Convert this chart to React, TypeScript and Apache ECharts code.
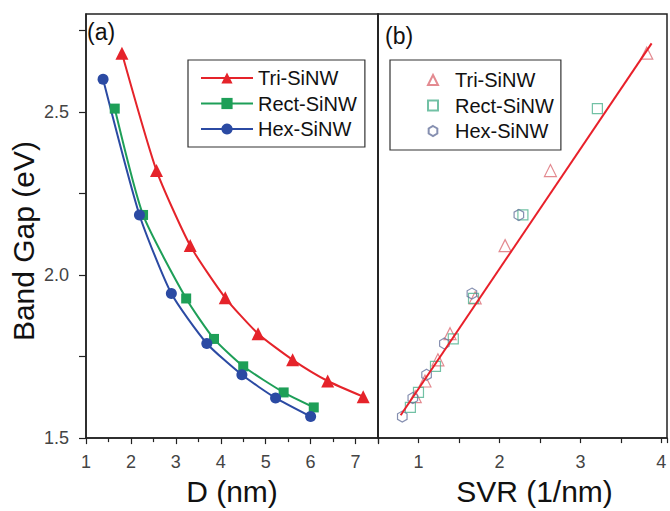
import React, { useEffect, useRef } from "react";
import * as echarts from "echarts";

// Panel (a): band gap vs diameter
const triD = [1.8, 2.57, 3.32, 4.1, 4.83, 5.6, 6.38, 7.17];
const triGap = [2.68, 2.32, 2.09, 1.93, 1.82, 1.74, 1.675, 1.627];
const rectD = [1.64, 2.27, 3.23, 3.85, 4.5, 5.4, 6.07];
const rectGap = [2.51, 2.184, 1.928, 1.804, 1.72, 1.64, 1.594];
const hexD = [1.38, 2.19, 2.9, 3.69, 4.47, 5.22, 6.0];
const hexGap = [2.6, 2.184, 1.943, 1.79, 1.694, 1.623, 1.566];

// Panel (b): band gap vs surface-to-volume ratio
const triSVR = [3.82, 2.63, 2.07, 1.7, 1.39, 1.24, 1.08, 0.96];
const rectSVR = [3.21, 2.29, 1.68, 1.43, 1.21, 1.0, 0.9];
const hexSVR = [2.24, 1.66, 1.32, 1.1, 0.93, 0.8];
const hexGapB = [2.184, 1.943, 1.79, 1.694, 1.623, 1.566];
const fitSVR = [0.78, 3.88];
const fitGap = [1.57, 2.71];

const names = ["Tri-SiNW", "Rect-SiNW", "Hex-SiNW"];

const RED = "#e5232a";
const GREEN = "#1e9f58";
const BLUE = "#2b4aa3";
const HEX = "path://M0,-1L0.866,-0.5L0.866,0.5L0,1L-0.866,0.5L-0.866,-0.5Z";
const FONT = "Liberation Sans, Arial, sans-serif";

const zip = (xs: number[], ys: number[]) => xs.map((x, i) => [x, ys[i]]);

export default function App() {
  const ref = useRef<HTMLDivElement>(null);
  useEffect(() => {
    document.body.style.margin = "0";
    const chart = echarts.init(ref.current!, null, { renderer: "svg" });
    const halfFmt = (v: number) =>
      Math.abs(v * 2 - Math.round(v * 2)) < 1e-6 ? v.toFixed(1) : "";
    const intFmt = (v: number) =>
      Math.abs(v - Math.round(v)) < 1e-6 ? String(Math.round(v)) : "";
    const axisLine = { show: true, lineStyle: { color: "#222", width: 1.5 } };
    const labelStyle = { fontSize: 18, color: "#444", fontFamily: FONT };
    const nameStyle = { fontSize: 30, color: "#111", fontFamily: FONT };
    const option: any = {
      animation: false,
      backgroundColor: "#fff",
      textStyle: { fontFamily: FONT },
      title: [
        { text: "(a)", left: 87, top: 20, textStyle: { fontSize: 23, fontWeight: "normal", color: "#111", fontFamily: FONT }, padding: 0 },
        { text: "(b)", left: 385, top: 24, textStyle: { fontSize: 23, fontWeight: "normal", color: "#111", fontFamily: FONT }, padding: 0 },
      ],
      grid: [
        { left: 86, top: 14, width: 292, height: 431, show: true, borderColor: "#222", borderWidth: 1.5, backgroundColor: "transparent" },
        { left: 378, top: 14, width: 302, height: 431, show: true, borderColor: "#222", borderWidth: 1.5, backgroundColor: "transparent" },
      ],
      legend: [
        {
          orient: "vertical",
          left: 188,
          top: 60,
          data: names,
          borderColor: "#333",
          borderWidth: 1.2,
          padding: [8, 8, 8, 12],
          itemWidth: 52,
          itemHeight: 14,
          itemGap: 5.5,
          textStyle: { fontSize: 20, color: "#111", lineHeight: 20, fontFamily: FONT },
        },
        {
          orient: "vertical",
          left: 390,
          top: 60,
          data: names.map((n) => n + " SVR"),
          formatter: (n: string) => n.replace(" SVR", ""),
          borderColor: "#333",
          borderWidth: 1.2,
          padding: [10, 7, 9, 37],
          itemWidth: 10,
          itemHeight: 10,
          itemGap: 5.5,
          textStyle: { fontSize: 20, color: "#111", lineHeight: 20, fontFamily: FONT, padding: [0, 0, 0, 12] },
        },
      ],
      xAxis: [
        {
          type: "value",
          gridIndex: 0,
          min: 1,
          max: 7.5,
          interval: 1,
          name: "D (nm)",
          nameLocation: "middle",
          nameGap: 27,
          nameTextStyle: nameStyle,
          axisLine,
          axisTick: { show: true, length: 6, lineStyle: { color: "#222", width: 1.2 } },
          minorTick: { show: true, splitNumber: 2, length: 4, lineStyle: { color: "#222", width: 1.2 } },
          splitLine: { show: false },
          axisLabel: { ...labelStyle, margin: 15, showMaxLabel: false },
        },
        {
          type: "value",
          gridIndex: 1,
          min: 0.5,
          max: 4.07,
          interval: 0.5,
          name: "SVR (1/nm)",
          nameLocation: "middle",
          nameGap: 27,
          nameTextStyle: { ...nameStyle, padding: [0, 0, 0, 24] },
          axisLine,
          axisTick: { show: true, length: 5, lineStyle: { color: "#222", width: 1.2 } },
          splitLine: { show: false },
          axisLabel: { ...labelStyle, margin: 15, formatter: intFmt },
        },
      ],
      yAxis: [
        {
          type: "value",
          gridIndex: 0,
          min: 1.5,
          max: 2.8,
          interval: 0.25,
          name: "Band Gap (eV)",
          nameLocation: "middle",
          nameGap: 48,
          nameTextStyle: { ...nameStyle, padding: [0, 30, 0, 0] },
          axisLine,
          axisTick: { show: true, length: 7, lineStyle: { color: "#222", width: 1.2 } },
          splitLine: { show: false },
          axisLabel: { ...labelStyle, margin: 17, formatter: halfFmt, showMaxLabel: false },
        },
        {
          type: "value",
          gridIndex: 1,
          min: 1.5,
          max: 2.8,
          interval: 0.25,
          axisLine,
          axisTick: { show: false },
          splitLine: { show: false },
          axisLabel: { show: false },
        },
      ],
      series: [
        {
          name: "Tri-SiNW",
          type: "line",
          xAxisIndex: 0,
          yAxisIndex: 0,
          data: zip(triD, triGap),
          smooth: 0.2,
          symbol: "triangle",
          symbolSize: 13,
          itemStyle: { color: RED },
          lineStyle: { color: RED, width: 2 },
        },
        {
          name: "Rect-SiNW",
          type: "line",
          xAxisIndex: 0,
          yAxisIndex: 0,
          data: zip(rectD, rectGap),
          smooth: 0.2,
          symbol: "rect",
          symbolSize: 10,
          itemStyle: { color: GREEN },
          lineStyle: { color: GREEN, width: 2 },
        },
        {
          name: "Hex-SiNW",
          type: "line",
          xAxisIndex: 0,
          yAxisIndex: 0,
          data: zip(hexD, hexGap),
          smooth: 0.2,
          symbol: "circle",
          symbolSize: 11,
          itemStyle: { color: BLUE },
          lineStyle: { color: BLUE, width: 2 },
        },
        {
          name: "Tri-SiNW SVR",
          type: "scatter",
          xAxisIndex: 1,
          yAxisIndex: 1,
          data: zip(triSVR, triGap),
          symbol: "triangle",
          symbolSize: 12,
          symbolKeepAspect: true,
          itemStyle: { color: "rgba(255,255,255,0)", borderColor: "#dc6d74", borderWidth: 1.2 },
        },
        {
          name: "Rect-SiNW SVR",
          type: "scatter",
          xAxisIndex: 1,
          yAxisIndex: 1,
          data: zip(rectSVR, rectGap),
          symbol: "rect",
          symbolSize: 10,
          symbolKeepAspect: true,
          itemStyle: { color: "rgba(255,255,255,0)", borderColor: "#4fb28e", borderWidth: 1.2 },
        },
        {
          name: "Hex-SiNW SVR",
          type: "scatter",
          xAxisIndex: 1,
          yAxisIndex: 1,
          data: zip(hexSVR, hexGapB),
          symbol: HEX,
          symbolSize: 11,
          symbolKeepAspect: true,
          itemStyle: { color: "rgba(255,255,255,0)", borderColor: "#66739c", borderWidth: 1.2 },
        },
        {
          name: "fit",
          type: "line",
          xAxisIndex: 1,
          yAxisIndex: 1,
          data: zip(fitSVR, fitGap),
          symbol: "none",
          lineStyle: { color: "#e8202a", width: 2 },
          z: 5,
        },
      ],
    };
    chart.setOption(option);
    return () => chart.dispose();
  }, []);
  return <div ref={ref} style={{ width: 670, height: 511 }} />;
}
